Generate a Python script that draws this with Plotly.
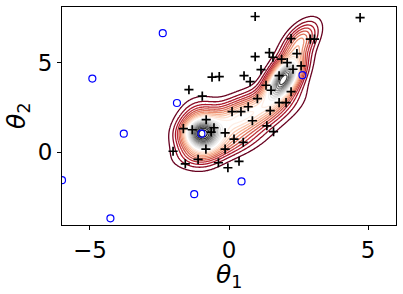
import numpy as np
import plotly.graph_objects as go

# Samples (black +)
samples_t1 = [0.94, 4.71, 2.23, 2.92, 3.07, 1.45, 2.44, 0.94, 1.58, 1.89, 2.09, 2.30, 2.59, 1.15,
              -0.61, -0.35, 0.54, 1.80, 0.76, 1.33, 1.51, 2.23, -1.44, -0.96, 1.02, 1.80, 2.05,
              0.69, 0.11, 0.43, 1.48, 0.84, -0.82, -1.64, -1.32, -0.64, -0.54, -0.14, 1.36, 1.60,
              0.18, 0.51, -2.01, -0.83, -0.14, -1.11, -1.57, -0.38, 0.36, -0.04]
samples_t2 = [7.57, 7.51, 6.34, 6.31, 6.31, 5.56, 5.50, 5.33, 5.30, 5.19, 5.00, 4.63, 4.82, 4.61,
              4.19, 4.22, 4.27, 4.27, 3.94, 3.74, 3.46, 3.38, 3.49, 3.13, 2.99, 2.77, 2.77,
              2.54, 2.27, 2.27, 2.32, 1.76, 1.82, 1.32, 1.26, 1.13, 1.37, 1.09, 1.48, 1.15,
              0.74, 0.56, 0.06, 0.18, 0.18, -0.39, -0.64, -0.58, -0.50, -0.86]

# Blue open circles
pts_t1 = [-2.38, -4.91, -1.87, -3.78, -0.99, 2.64, -6.0, -1.25, 0.45, -4.26]
pts_t2 = [6.64, 4.11, 2.75, 1.04, 1.04, 4.30, -1.55, -2.33, -1.62, -3.68]

# Density components: centre, sd along/across, angle (deg), amplitude
comp_mx = [-1.0, -1.0, -0.3, 0.5, 1.97, 2.55]
comp_my = [1.05, 1.1, 0.35, 2.0, 4.1, 6.2]
comp_sa = [0.45, 0.45, 1.0, 1.2, 0.87, 0.75]
comp_sb = [0.5, 0.9, 0.48, 0.58, 0.34, 0.33]
comp_ang = [0, 0, 30, 38, 70, 68]
comp_amp = [0.38, 0.5, 0.2, 0.5, 0.95, 0.3]

x_range = [-6.0, 6.0]
y_range = [-4.05, 8.1]

gx = np.linspace(x_range[0], x_range[1], 320)
gy = np.linspace(y_range[0], y_range[1], 320)
X, Y = np.meshgrid(gx, gy)
Z = np.zeros_like(X)
for mx, my, sa, sb, ang, amp in zip(comp_mx, comp_my, comp_sa, comp_sb, comp_ang, comp_amp):
    t = np.deg2rad(ang)
    dx, dy = X - mx, Y - my
    u = dx * np.cos(t) + dy * np.sin(t)
    v = -dx * np.sin(t) + dy * np.cos(t)
    Z += amp * np.exp(-0.5 * ((u / sa) ** 2 + (v / sb) ** 2))

n_levels = 24
zmax = float(Z.max())
step = zmax / n_levels
start = step
end = step * (n_levels - 1)

fig = go.Figure()
fig.add_trace(go.Contour(
    x=gx, y=gy, z=Z,
    contours=dict(coloring="lines", start=start, end=end, size=step),
    colorscale="RdGy", zmin=start, zmax=end,
    line=dict(width=1.3), showscale=False, hoverinfo="skip",
))
fig.add_trace(go.Scatter(
    x=samples_t1, y=samples_t2, mode="markers",
    marker=dict(symbol="cross-thin", size=6.5, line=dict(width=1.7, color="black"), color="black"),
    showlegend=False,
))
fig.add_trace(go.Scatter(
    x=pts_t1, y=pts_t2, mode="markers",
    marker=dict(symbol="circle-open", size=7, line=dict(width=1.2, color="blue"), color="blue"),
    showlegend=False,
))

font = "DejaVu Sans"
fig.update_layout(
    width=403, height=294,
    margin=dict(l=62, r=7, t=7, b=69),
    plot_bgcolor="white", paper_bgcolor="white",
    showlegend=False,
    font=dict(family=font, size=23, color="black"),
    annotations=[
        dict(text="<i>\u03b8</i><sub>1</sub>", xref="paper", yref="paper",
             x=0.5, y=-0.232, xanchor="center", yanchor="middle", showarrow=False,
             font=dict(family=font, size=25, color="black")),
        dict(text="<i>\u03b8</i><sub>2</sub>", xref="paper", yref="paper",
             x=-0.132, y=0.5, xanchor="center", yanchor="middle", showarrow=False,
             textangle=-90, font=dict(family=font, size=25, color="black")),
    ],
)
fig.update_xaxes(
    range=x_range, tickvals=[-5, 0, 5], ticktext=["\u22125", "0", "5"],
    showline=True, linecolor="black", linewidth=1, mirror=True, automargin=False,
    ticks="outside", ticklen=4, tickcolor="black", showgrid=False, zeroline=False,
)
fig.update_yaxes(
    range=y_range, tickvals=[0, 5], ticktext=["0", "5"],
    showline=True, linecolor="black", linewidth=1, mirror=True, automargin=False,
    ticks="outside", ticklen=4, tickcolor="black", showgrid=False, zeroline=False,
)
fig.write_html("out.html", config={"displayModeBar": False},
               post_script="document.body.style.margin='0px';")
